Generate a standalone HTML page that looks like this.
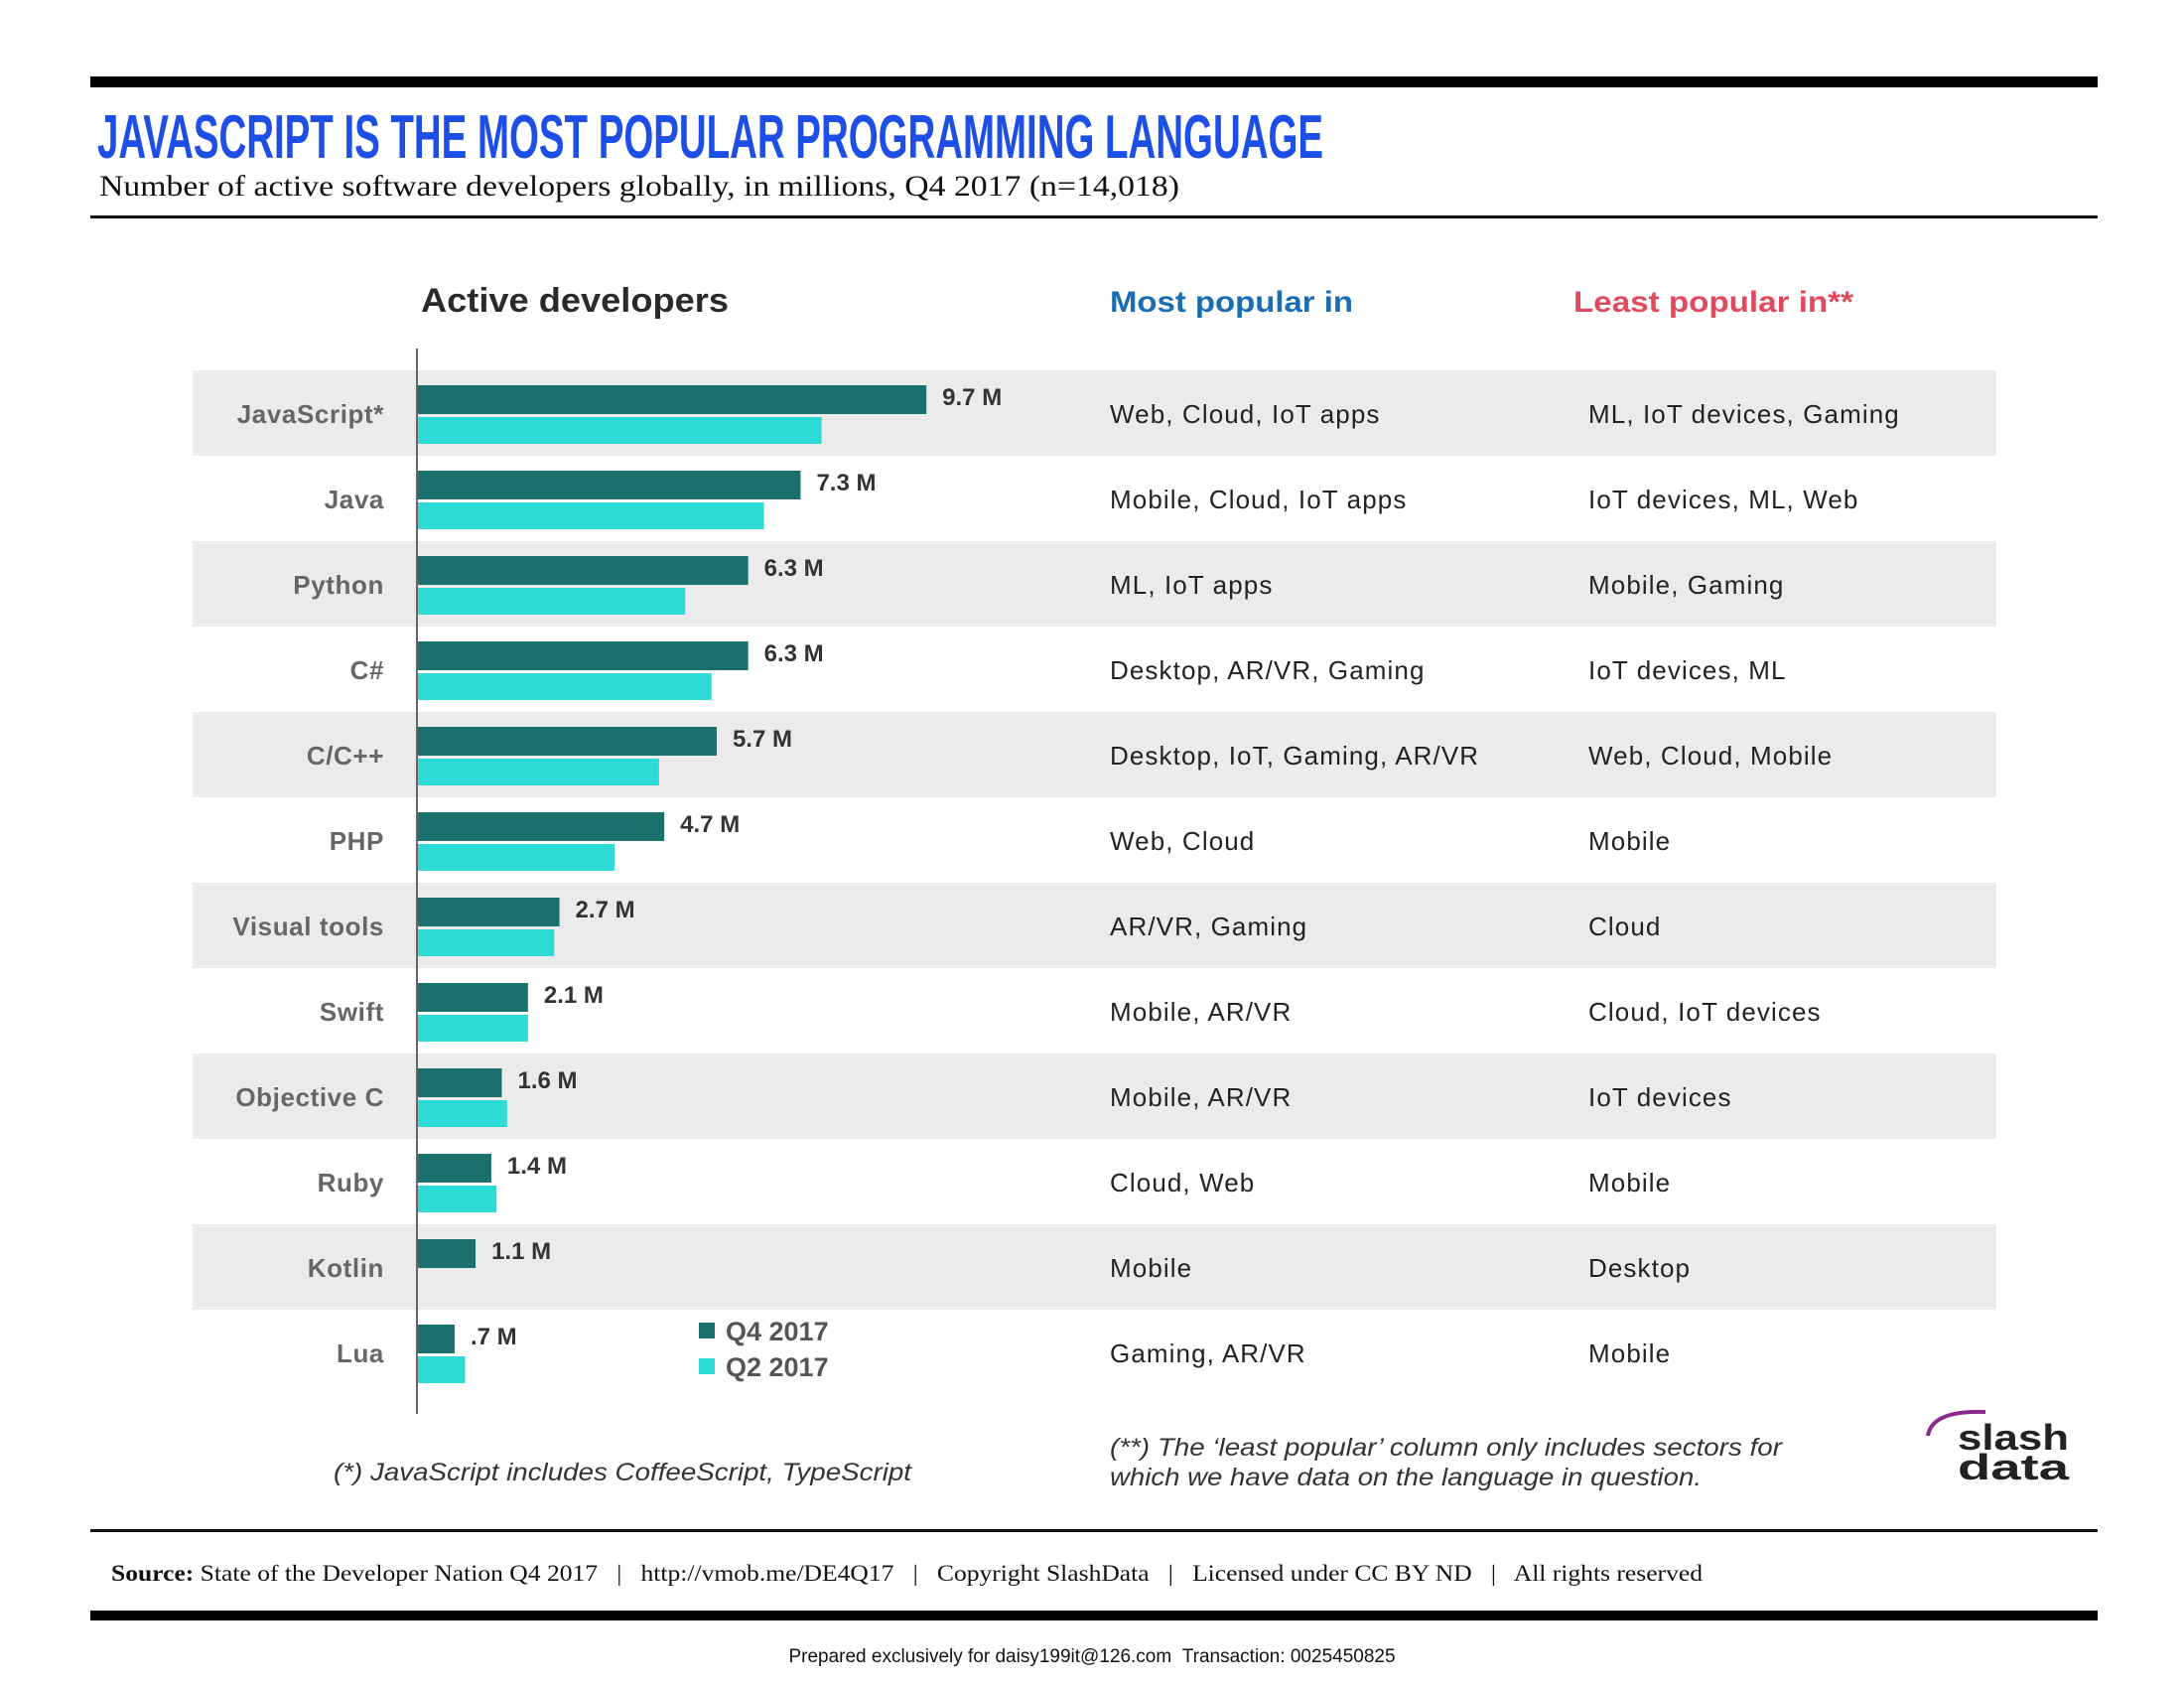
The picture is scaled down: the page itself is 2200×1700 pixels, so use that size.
<!DOCTYPE html>
<html><head><meta charset="utf-8"><style>
html,body{margin:0;padding:0;background:#fff}
svg{display:block}
text{font-family:"Liberation Sans",sans-serif}
</style></head><body>
<svg id="chart" width="2200" height="1700" viewBox="0 0 2200 1700" xmlns="http://www.w3.org/2000/svg">
<rect x="91" y="77" width="2022" height="11" fill="#000"/>
<text x="98" y="159" font-size="62" font-weight="bold" fill="#1d4fe6" textLength="1235" lengthAdjust="spacingAndGlyphs">JAVASCRIPT IS THE MOST POPULAR PROGRAMMING LANGUAGE</text>
<text x="100" y="197" font-size="30" fill="#111" style="font-family:'Liberation Serif',serif" textLength="1088" lengthAdjust="spacingAndGlyphs">Number of active software developers globally, in millions, Q4 2017 (n=14,018)</text>
<rect x="91" y="217" width="2022" height="3" fill="#111"/>
<text x="424" y="314" font-size="34" font-weight="bold" fill="#2a2a2a" textLength="310" lengthAdjust="spacingAndGlyphs">Active developers</text>
<text x="1118" y="314" font-size="30" font-weight="bold" fill="#1a6db3" textLength="245" lengthAdjust="spacingAndGlyphs">Most popular in</text>
<text x="1585" y="314" font-size="30" font-weight="bold" fill="#e14a5e" textLength="282" lengthAdjust="spacingAndGlyphs">Least popular in**</text>
<g id="rows"></g>
<g id="bars"></g>
<line x1="420" y1="351" x2="420" y2="1424" stroke="#666" stroke-width="2"/>
<g>
<rect x="704" y="1332" width="16" height="16" fill="#1a716c"/>
<text x="731" y="1350" font-size="27" font-weight="bold" fill="#555">Q4 2017</text>
<rect x="704" y="1368" width="16" height="16" fill="#2edbd6"/>
<text x="731" y="1386" font-size="27" font-weight="bold" fill="#555">Q2 2017</text>
</g>
<text x="336" y="1491" font-size="25" font-style="italic" fill="#333" textLength="582" lengthAdjust="spacingAndGlyphs">(*) JavaScript includes CoffeeScript, TypeScript</text>
<text x="1118" y="1466" font-size="25" font-style="italic" fill="#333" textLength="677" lengthAdjust="spacingAndGlyphs">(**) The ‘least popular’ column only includes sectors for</text>
<text x="1118" y="1496" font-size="25" font-style="italic" fill="#333" textLength="596" lengthAdjust="spacingAndGlyphs">which we have data on the language in question.</text>
<g>
<path d="M1942 1446 Q1946 1420 2000 1422" fill="none" stroke="#8a2a8a" stroke-width="4"/>
<text x="1972" y="1460" font-size="36" font-weight="bold" fill="#222" textLength="112" lengthAdjust="spacingAndGlyphs">slash</text>
<text x="1972" y="1490" font-size="36" font-weight="bold" fill="#222" textLength="112" lengthAdjust="spacingAndGlyphs">data</text>
</g>
<rect x="91" y="1540" width="2022" height="3" fill="#111"/>
<text x="112" y="1592" font-size="23" fill="#111" style="font-family:'Liberation Serif',serif" textLength="1603" lengthAdjust="spacingAndGlyphs"><tspan font-weight="bold">Source:</tspan> State of the Developer Nation Q4 2017 &#160;&#160;|&#160;&#160; http://vmob.me/DE4Q17 &#160;&#160;|&#160;&#160; Copyright SlashData &#160;&#160;|&#160;&#160; Licensed under CC BY ND &#160;&#160;|&#160;&#160; All rights reserved</text>
<rect x="91" y="1622" width="2022" height="10" fill="#000"/>
<text x="1100" y="1674" font-size="19" fill="#111" text-anchor="middle">Prepared exclusively for daisy199it@126.com&#160;&#160;Transaction: 0025450825</text>
</svg>
<script>
const categories = ["JavaScript*","Java","Python","C#","C/C++","PHP","Visual tools","Swift","Objective C","Ruby","Kotlin","Lua"];
const q4Values = [9.7,7.3,6.3,6.3,5.7,4.7,2.7,2.1,1.6,1.4,1.1,0.7];
const q2Values = [7.7,6.6,5.1,5.6,4.6,3.75,2.6,2.1,1.7,1.5,0,0.9];
const q4Labels = ["9.7 M","7.3 M","6.3 M","6.3 M","5.7 M","4.7 M","2.7 M","2.1 M","1.6 M","1.4 M","1.1 M",".7 M"];
const mostPopular = ["Web, Cloud, IoT apps","Mobile, Cloud, IoT apps","ML, IoT apps","Desktop, AR/VR, Gaming","Desktop, IoT, Gaming, AR/VR","Web, Cloud","AR/VR, Gaming","Mobile, AR/VR","Mobile, AR/VR","Cloud, Web","Mobile","Gaming, AR/VR"];
const leastPopular = ["ML, IoT devices, Gaming","IoT devices, ML, Web","Mobile, Gaming","IoT devices, ML","Web, Cloud, Mobile","Mobile","Cloud","Cloud, IoT devices","IoT devices","Mobile","Desktop","Mobile"];

const NS = "http://www.w3.org/2000/svg";
const x0 = 421, perUnit = 52.8;
const xScale = v => x0 + v * perUnit;
const rowTop0 = 373, pitch = 86;
const yCenter = i => rowTop0 + pitch * i + pitch / 2;
function mk(tag, attrs, parent, txt) {
  const e = document.createElementNS(NS, tag);
  for (const k in attrs) e.setAttribute(k, attrs[k]);
  if (txt !== undefined) e.textContent = txt;
  parent.appendChild(e);
  return e;
}
const rows = document.getElementById('rows');
const bars = document.getElementById('bars');
categories.forEach((c, i) => {
  const cy = yCenter(i);
  if (i % 2 === 0 && i < 11) {
    const band = mk('rect', {x:194, y:cy - pitch/2, width:1817, height:pitch, fill:'#ebebeb'}, rows);
    
    
  }
  const lab = mk('text', {x:387, y:cy + 10, 'font-size':26, 'font-weight':'bold', fill:'#666', 'text-anchor':'end', 'letter-spacing':0.6}, rows, c);
  
  
  const mp = mk('text', {x:1118, y:cy + 10, 'font-size':26, fill:'#222', 'letter-spacing':1.1}, rows, mostPopular[i]);
  
  
  const lp = mk('text', {x:1600, y:cy + 10, 'font-size':26, fill:'#222', 'letter-spacing':1.1}, rows, leastPopular[i]);
  
  
  const b4 = mk('rect', {x:x0, y:cy - 28, width:xScale(q4Values[i]) - x0, height:29, fill:'#1a716c'}, bars);
  
  
  if (q2Values[i] > 0) {
    const b2 = mk('rect', {x:x0, y:cy + 4, width:xScale(q2Values[i]) - x0, height:27, fill:'#2edbd6'}, bars);
    
    
  }
  const vl = mk('text', {x:xScale(q4Values[i]) + 16, y:cy - 8, 'font-size':24, 'font-weight':'bold', fill:'#333'}, bars, q4Labels[i]);
  
  
});
</script>
</body></html>
